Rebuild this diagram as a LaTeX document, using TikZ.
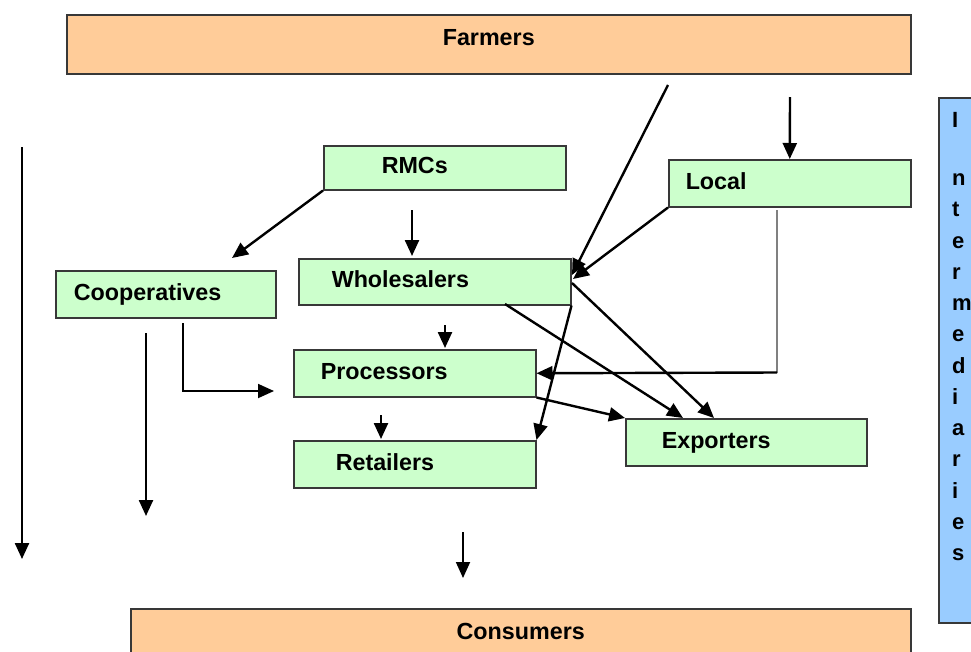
\documentclass[tikz,border=0pt]{standalone}
\usepackage{fontspec}
\setmainfont{Liberation Sans}
\usetikzlibrary{arrows.meta}
\definecolor{peach}{HTML}{FFCC99}
\definecolor{mint}{HTML}{CCFFCC}
\definecolor{sky}{HTML}{99CCFF}
\definecolor{edge}{HTML}{383838}
\begin{document}
\begin{tikzpicture}[x=1pt,y=-1pt,
  box/.style={draw=edge, line width=1.5pt, anchor=north west, font=\fontsize{23.3}{27}\selectfont\bfseries},
  endbox/.style={box, fill=peach, align=center},
  gbox/.style={box, fill=mint, align=left, text height=17pt, text depth=5pt, inner ysep=0pt},
  arr/.style={line width=2.4pt, -{Triangle[length=16pt,width=14pt]}},
  thinarr/.style={line width=1.8pt, -{Triangle[length=16pt,width=14pt]}},
]
\clip (0,0) rectangle (971,651);

% end boxes
\node[endbox, minimum width=844pt, minimum height=59pt, text height=16.6pt, text depth=14pt, inner sep=0pt] (farm) at (66,14) {Farmers};
\node[endbox, minimum width=780pt, minimum height=45pt, text height=16.6pt, text depth=0pt, inner sep=0pt] (cons) at (130,608) {Consumers};

% intermediaries
\node[box, fill=sky, minimum width=80pt, minimum height=525pt, inner sep=0pt] (inter) at (938,97) {};
\node[anchor=north west, inner sep=0pt, align=left, font=\fontsize{22}{31.25}\selectfont\bfseries] (intert) at (952,112)
  {I\\[27pt]n\\t\\e\\r\\m\\e\\d\\i\\a\\r\\i\\e\\s};

% green boxes
\node[gbox, text width=126pt, inner xsep=58pt, minimum height=44pt] (rmc) at (323,145) {RMCs};
\node[gbox, text width=208pt, inner xsep=17pt, minimum height=47pt] (local) at (668,159) {Local};
\node[gbox, text width=184pt, inner xsep=18pt, minimum height=47pt] (coop) at (55,270) {Cooperatives};
\node[gbox, text width=206pt, inner xsep=33pt, minimum height=46pt] (whole) at (298,258) {Wholesalers};
\node[gbox, text width=188pt, inner xsep=27pt, minimum height=47pt] (proc) at (293,349) {Processors};
\node[gbox, text width=158pt, inner xsep=42pt, minimum height=47pt] (ret) at (293,440) {Retailers};
\node[gbox, text width=169pt, inner xsep=36pt, minimum height=47pt] (exp) at (625,418) {Exporters};

% coordinates
\coordinate (la1) at (22,147);   \coordinate (la2) at (22,559);
\coordinate (cd1) at (146,333);  \coordinate (cd2) at (146,516);
\coordinate (ce1) at (183,323);  \coordinate (ce2) at (274,391);
\coordinate (cooptip) at (232,258);
\coordinate (rd1) at (412,210);  \coordinate (rd2) at (412,256);
\coordinate (wd1) at (445,325);  \coordinate (wd2) at (445,348);
\coordinate (pd1) at (381,415);  \coordinate (pd2) at (381,439);
\coordinate (cn1) at (463,532);  \coordinate (cn2) at (463,578);
\coordinate (f1) at (668,85);    \coordinate (wtip1) at (572,275);
\coordinate (wtip2) at (573,279);
\coordinate (f2) at (790,97);
\coordinate (lp1) at (777,210);  \coordinate (lc) at (777,372.5);
\coordinate (wr) at (572,283);   \coordinate (et1) at (714,418);
\coordinate (wb) at (505,304);   \coordinate (et2) at (683,418);

% connectors
\draw[arr] (la1) -- (la2);
\draw[arr] (cd1) -- (cd2);
\draw[thinarr] (ce1) |- (ce2);
\draw[arr] (rmc.south west) -- (cooptip);
\draw[arr] (rd1) -- (rd2);
\draw[arr] (wd1) -- (wd2);
\draw[arr] (pd1) -- (pd2);
\draw[thinarr] (cn1) -- (cn2);
\draw[arr] (f1) -- (wtip1);
\draw[arr] (local.south west) -- (wtip2);
\draw[arr] (f2) -- (local.north);
\draw[line width=1.3pt, gray] (lp1) -- (lc);
\draw[arr] (lc) -- (proc.east);
\draw[arr] (whole.south east) -- (ret.north east);
\draw[arr] (wr) -- (et1);
\draw[arr] (wb) -- (et2);
\draw[arr] (proc.south east) -- (exp.north west);
\end{tikzpicture}
\end{document}
